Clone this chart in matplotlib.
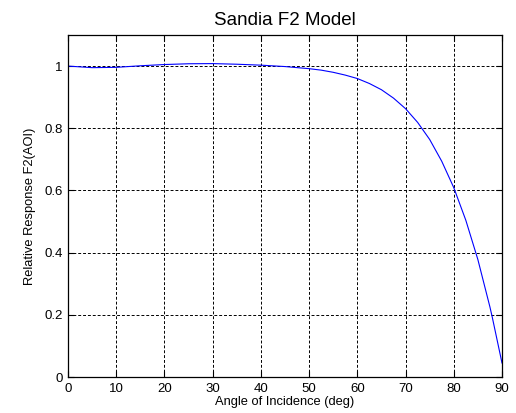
import matplotlib
matplotlib.use("Agg")
import matplotlib.pyplot as plt

# angle of incidence (deg) and relative response
aoi = [0, 5, 10, 15, 20, 25, 30, 35, 40, 45, 50, 52.5, 55, 57.5, 60, 62.5,
       65, 67.5, 70, 72.5, 75, 77.5, 80, 82.5, 85, 87.5, 88, 90]
f2 = [1.000, 0.995, 0.996, 1.001, 1.005, 1.0075, 1.008, 1.006, 1.003, 0.9985,
      0.9917, 0.987, 0.980, 0.971, 0.960, 0.944,
      0.924, 0.897, 0.863, 0.819, 0.764, 0.694, 0.609, 0.504, 0.3775,
      0.225, 0.191, 0.045]

xticks = [0, 10, 20, 30, 40, 50, 60, 70, 80, 90]
yticks = [0, 0.2, 0.4, 0.6, 0.8, 1]

plt.rcParams["font.family"] = ["Liberation Sans", "DejaVu Sans"]

fig = plt.figure(figsize=(5.16, 4.13), dpi=100)
ax = fig.add_axes([68 / 516, 1 - 377 / 413, 434 / 516, 342 / 413])

ax.plot(aoi, f2, color="blue", linewidth=0.8)

ax.set_xlim(0, 90)
ax.set_ylim(0, 1.1)
ax.set_xticks(xticks)
ax.set_xticklabels([str(t) for t in xticks])
ax.set_yticks(yticks)
ax.set_yticklabels(["0", "0.2", "0.4", "0.6", "0.8", "1"])

ax.grid(True, color="black", linestyle=(0, (3, 2)), linewidth=0.7)
ax.tick_params(direction="in", length=4, width=0.8, top=True, right=True,
               labelsize=9.5, pad=4)
for s in ax.spines.values():
    s.set_linewidth(0.9)

ax.set_title("Sandia F2 Model", fontsize=13.5, pad=7)
ax.set_xlabel("Angle of Incidence (deg)", fontsize=9.3, labelpad=1)
ax.set_ylabel("Relative Response F2(AOI)", fontsize=9.3, labelpad=6)

fig.savefig("out.png", dpi=100)
